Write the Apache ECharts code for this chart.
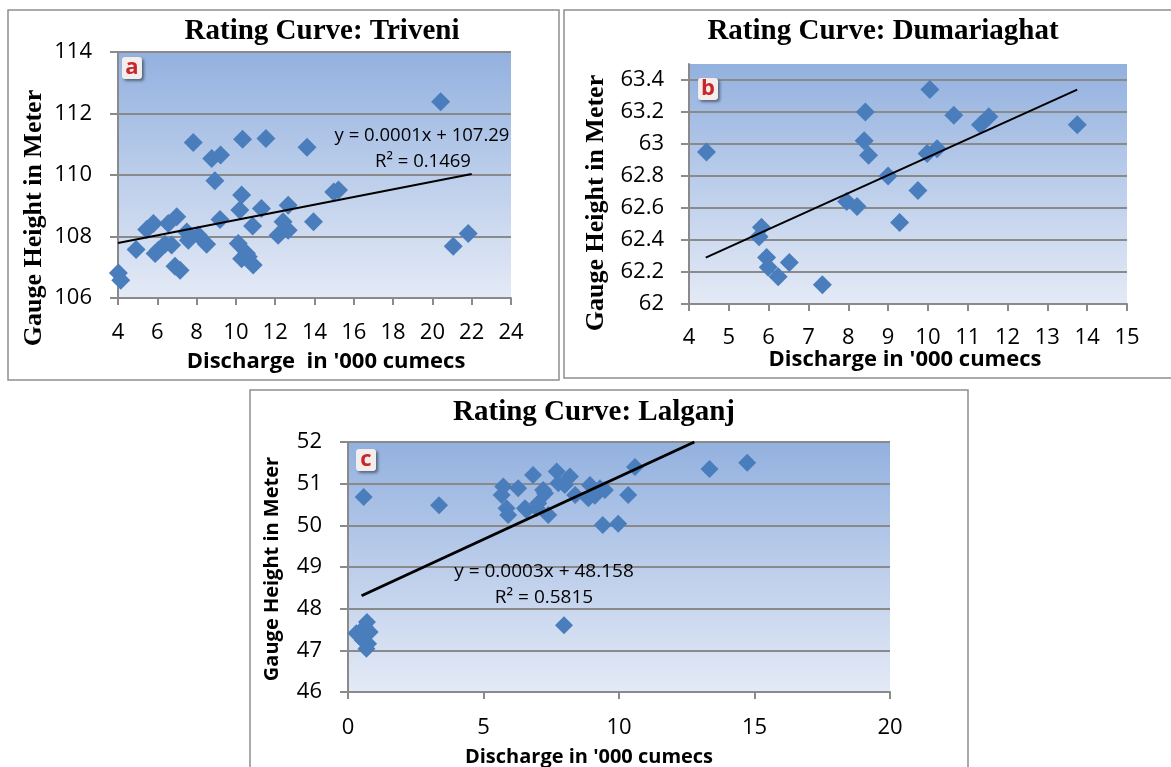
<!DOCTYPE html>
<html>
<head>
<meta charset="utf-8" />
<title>Rating Curves</title>
<script src="https://cdn.jsdelivr.net/npm/echarts@6/dist/echarts.min.js"></script>
<style>
  html, body { margin: 0; padding: 0; background: #fff; }
  #chart { width: 1171px; height: 767px; }
</style>
</head>
<body>
<div id="chart"></div>
<script>
// a: Triveni (discharge in '000 cumecs, gauge height in m)
var triveniX = [4.02, 4.14, 4.92, 5.46, 5.8, 5.89, 6.05, 6.39, 6.56, 6.99, 6.73, 6.9, 7.16, 7.5, 7.58, 7.83, 8.09, 8.51,
  8.77, 9.22, 8.93, 9.19, 10.2, 10.29, 10.34, 10.12, 10.29, 10.54, 10.63, 10.88, 10.85, 11.3, 11.53, 12.15, 12.4, 12.66,
  12.66, 13.62, 13.95, 14.98, 15.22, 20.42, 21.06, 21.82];
var triveniY = [106.81, 106.58, 107.58, 108.23, 108.42, 107.45, 107.55, 107.75, 108.42, 108.64, 107.72, 107.03, 106.9,
  108.15, 107.88, 111.06, 108.04, 107.75, 110.54, 110.65, 109.81, 108.55, 108.86, 109.35, 111.16, 107.77, 107.28, 107.45,
  107.34, 107.07, 108.34, 108.91, 111.19, 108.04, 108.48, 108.2, 109.02, 110.9, 108.48, 109.45, 109.51, 112.38, 107.68, 108.1];
var triveniTrendX = [4, 22];
var triveniTrendY = [107.79, 110.03];

// b: Dumariaghat
var dumariaX = [4.44, 5.82, 5.76, 5.95, 5.99, 6.24, 6.52, 7.35, 7.96, 8.22, 8.43, 8.4, 8.51, 9.0, 9.29, 9.75, 9.98,
  10.05, 10.23, 10.65, 11.32, 11.53, 13.75];
var dumariaY = [62.95, 62.48, 62.42, 62.29, 62.23, 62.17, 62.26, 62.12, 62.64, 62.61, 63.2, 63.02, 62.93, 62.8, 62.51,
  62.71, 62.94, 63.34, 62.97, 63.18, 63.12, 63.17, 63.12];
var dumariaTrendX = [4.42, 13.75];
var dumariaTrendY = [62.29, 63.34];

// c: Lalganj
var lalganjX = [0.58, 3.36, 0.43, 0.62, 0.7, 0.55, 0.74, 0.68, 0.8, 0.31, 5.73, 5.67, 5.85, 5.91, 6.28, 6.83, 6.59, 6.96,
  7.2, 7.39, 7.7, 7.76, 8.19, 8.0, 7.27, 7.02, 6.53, 8.93, 9.3, 9.48, 8.87, 9.11, 8.38, 9.4, 9.97, 10.34, 10.59, 13.34,
  14.73, 7.97];
var lalganjY = [50.68, 50.48, 47.41, 47.56, 47.68, 47.24, 47.16, 47.04, 47.44, 47.41, 50.93, 50.73, 50.41, 50.25, 50.89,
  51.21, 50.37, 50.41, 50.85, 50.25, 51.29, 51.01, 51.17, 50.97, 50.77, 50.53, 50.41, 50.97, 50.89, 50.85, 50.65, 50.71,
  50.73, 50.01, 50.04, 50.73, 51.4, 51.35, 51.5, 47.6];
var lalganjTrendX = [0.5, 12.78];
var lalganjTrendY = [48.31, 52.0];

var titles = ['Rating Curve: Triveni', 'Rating Curve: Dumariaghat', 'Rating Curve: Lalganj'];

function pairs(xs, ys) {
  return xs.map(function(x, i) { return [x, ys[i]]; });
}

var myChart = echarts.init(document.getElementById('chart'));

var plotBg = new echarts.graphic.LinearGradient(0, 0, 0, 1, [
  { offset: 0, color: '#93b1df' },
  { offset: 1, color: '#e4eaf6' }
]);
var gridGray = '#8a8a8a';
var sans = '"Open Sans", "Liberation Sans", sans-serif';
var serif = '"Liberation Serif", "DejaVu Serif", serif';

function xAx(idx, min, max, step, size, margin) {
  return {
    type: 'value', gridIndex: idx, min: min, max: max, interval: step,
    axisLine: { show: true, onZero: false, lineStyle: { color: gridGray, width: 2 } },
    axisTick: { show: true, length: 7, lineStyle: { color: gridGray, width: 2 } },
    axisLabel: { fontFamily: sans, fontSize: size, color: '#000', margin: margin },
    splitLine: { show: false }
  };
}
function yAx(idx, min, max, step, size, margin) {
  return {
    type: 'value', gridIndex: idx, min: min, max: max, interval: step,
    axisLine: { show: true, onZero: false, lineStyle: { color: gridGray, width: 2 } },
    axisTick: { show: true, length: 8, lineStyle: { color: gridGray, width: 2 } },
    axisLabel: { fontFamily: sans, fontSize: size, color: '#000', margin: margin, showMaxLabel: idx !== 1 },
    splitLine: { show: true, showMaxLine: idx !== 1, lineStyle: { color: gridGray, width: 2 } }
  };
}
function dots(idx, xs, ys, size) {
  return {
    type: 'scatter', xAxisIndex: idx, yAxisIndex: idx, symbol: 'diamond', symbolSize: size,
    itemStyle: { color: '#4a7dbb', opacity: 1 }, data: pairs(xs, ys), silent: true
  };
}
function trend(idx, xs, ys, w) {
  return {
    type: 'line', xAxisIndex: idx, yAxisIndex: idx, symbol: 'none', z: 5,
    lineStyle: { color: '#000', width: w }, data: pairs(xs, ys), silent: true
  };
}
function txt(s, x, y, font, rot) {
  return {
    type: 'text', x: x, y: y, rotation: rot || 0, z: 100,
    style: { text: s, font: font, fill: '#000', textAlign: 'center', textVerticalAlign: 'middle' }
  };
}
function frame(x, y, w, h) {
  return { type: 'rect', z: 0, shape: { x: x, y: y, width: w, height: h },
    style: { fill: null, stroke: '#8e8e8e', lineWidth: 1.5 } };
}
function badge(letter, x, y) {
  return [
    { type: 'rect', z: 90, shape: { x: x - 10, y: y - 11, width: 20, height: 22, r: 3 },
      style: { fill: '#f3eeec', shadowBlur: 3, shadowOffsetX: 2, shadowOffsetY: 2, shadowColor: 'rgba(0,0,0,0.45)' } },
    { type: 'text', x: x, y: y, z: 91,
      style: { text: letter, font: 'bold 22px ' + sans, fill: '#c8262c', textAlign: 'center', textVerticalAlign: 'middle' } }
  ];
}

var graphics = [
  frame(8, 10, 551, 370),
  frame(564, 10, 620, 368),
  frame(250, 390, 718, 400),
  txt(titles[0], 322, 32, 'bold 29px ' + serif),
  txt(titles[1], 883, 32, 'bold 29px ' + serif),
  txt(titles[2], 594, 413, 'bold 29px ' + serif),
  txt('Gauge Height in Meter', 34, 218, 'bold 26px ' + serif, Math.PI / 2),
  txt('Gauge Height in Meter', 596, 203, 'bold 26px ' + serif, Math.PI / 2),
  txt('Gauge Height in Meter', 272, 569, 'bold 20px ' + sans, Math.PI / 2),
  txt("Discharge  in '000 cumecs", 326, 362, 'bold 22px ' + sans),
  txt("Discharge in '000 cumecs", 905, 360, 'bold 22px ' + sans),
  txt("Discharge in '000 cumecs", 589, 757, 'bold 20px ' + sans),
  txt('y = 0.0001x + 107.29', 422, 136, '18.5px ' + sans),
  txt('R\u00b2 = 0.1469', 423, 162, '18.5px ' + sans),
  txt('y = 0.0003x + 48.158', 544, 572, '19px ' + sans),
  txt('R\u00b2 = 0.5815', 544, 598, '19px ' + sans)
].concat(badge('a', 132, 68), badge('b', 708, 89), badge('c', 366, 460));

myChart.setOption({
  backgroundColor: '#fff',
  animation: false,
  grid: [
    { left: 118, top: 52, width: 393, height: 246, show: true, backgroundColor: plotBg, borderWidth: 0 },
    { left: 689, top: 64, width: 438, height: 240, show: true, backgroundColor: plotBg, borderWidth: 0 },
    { left: 348, top: 442, width: 542, height: 250, show: true, backgroundColor: plotBg, borderWidth: 0 }
  ],
  xAxis: [
    xAx(0, 4, 24, 2, 22, 24),
    xAx(1, 4, 15, 1, 22, 23),
    xAx(2, 0, 20, 5, 22, 25)
  ],
  yAxis: [
    yAx(0, 106, 114, 2, 22, 26),
    yAx(1, 62, 63.5, 0.2, 22, 25),
    yAx(2, 46, 52, 1, 22, 26)
  ],
  series: [
    dots(0, triveniX, triveniY, 19),
    trend(0, triveniTrendX, triveniTrendY, 2),
    dots(1, dumariaX, dumariaY, 19),
    trend(1, dumariaTrendX, dumariaTrendY, 2),
    dots(2, lalganjX, lalganjY, 18),
    trend(2, lalganjTrendX, lalganjTrendY, 3)
  ],
  graphic: graphics
});

window.onresize = function() {
  myChart.resize();
};
</script>
</body>
</html>
